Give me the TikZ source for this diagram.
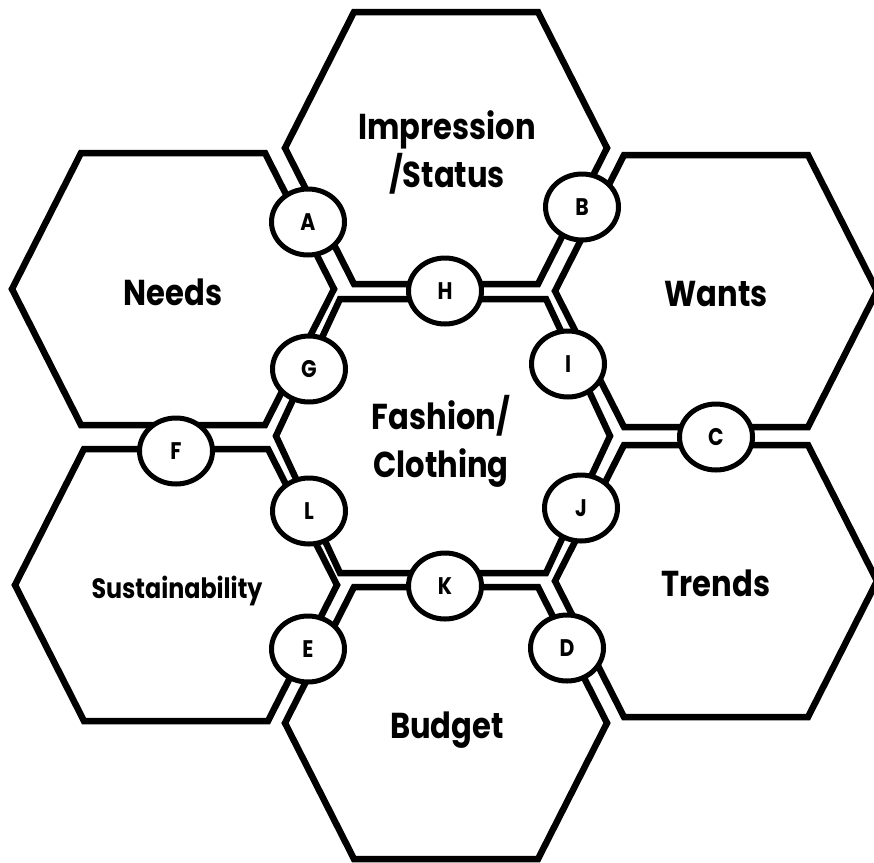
\documentclass[tikz,border=0pt]{standalone}
\usepackage{fontspec}
\setmainfont{Poppins}[FakeStretch=0.85]
\usetikzlibrary{shapes.geometric}
\begin{document}
\begin{tikzpicture}[x=1pt,y=-1pt,
  hexline/.style={line width=6.5pt, line join=miter},
  badge/.style={ellipse, draw, line width=5pt, fill=white, minimum width=73pt, minimum height=66pt, inner sep=0pt, font=\fontsize{24}{28}\selectfont\bfseries},
  hexlabel/.style={font=\fontsize{36}{48}\selectfont\bfseries, align=center},
  smalllabel/.style={font=\fontsize{28}{32}\selectfont\bfseries}]
\useasboundingbox (0,0) rectangle (874,862);
\clip (0,0) rectangle (874,862);
\newcommand\drawhexagon[5]{%
  \draw[hexline] (#1-#3,#2-#5) -- (#1+#3,#2-#5) -- (#1+#4,#2) -- (#1+#3,#2+#5) -- (#1-#3,#2+#5) -- (#1-#4,#2) -- cycle;}
% hexagons: cx, cy, half top edge, half width, half height
\drawhexagon{443}{436}{103}{167}{137}
\drawhexagon{446}{148}{92}{161}{136}
\drawhexagon{446}{723}{92}{161}{136}
\drawhexagon{173}{289}{92}{161}{136}
\drawhexagon{716}{291}{92}{161}{136}
\drawhexagon{176}{585}{92}{161}{136}
\drawhexagon{716}{581}{92}{161}{136}
% labels
\node[hexlabel] (fashion) at (441,441) {Fashion/\\Clothing};
\node[hexlabel] (impression) at (447,152) {Impression\\/Status};
\node[hexlabel] (needs) at (173,292) {Needs};
\node[hexlabel] (wants) at (716,294) {Wants};
\node[hexlabel] (trends) at (716,583) {Trends};
\node[hexlabel] (budget) at (447,730) {Budget};
\node[smalllabel] (sustain) at (177,591) {Sustainability};
% junction badges
\node[badge] (A) at (308,222) {A};
\node[badge] (B) at (582,207) {B};
\node[badge] (C) at (716,437) {C};
\node[badge] (D) at (567,648) {D};
\node[badge] (E) at (308,649) {E};
\node[badge] (F) at (176,451) {F};
\node[badge] (G) at (309,369) {G};
\node[badge] (H) at (445,291) {H};
\node[badge] (I) at (568,364) {I};
\node[badge] (J) at (581,508) {J};
\node[badge] (K) at (445,586) {K};
\node[badge] (L) at (309,511) {L};
\end{tikzpicture}
\end{document}
